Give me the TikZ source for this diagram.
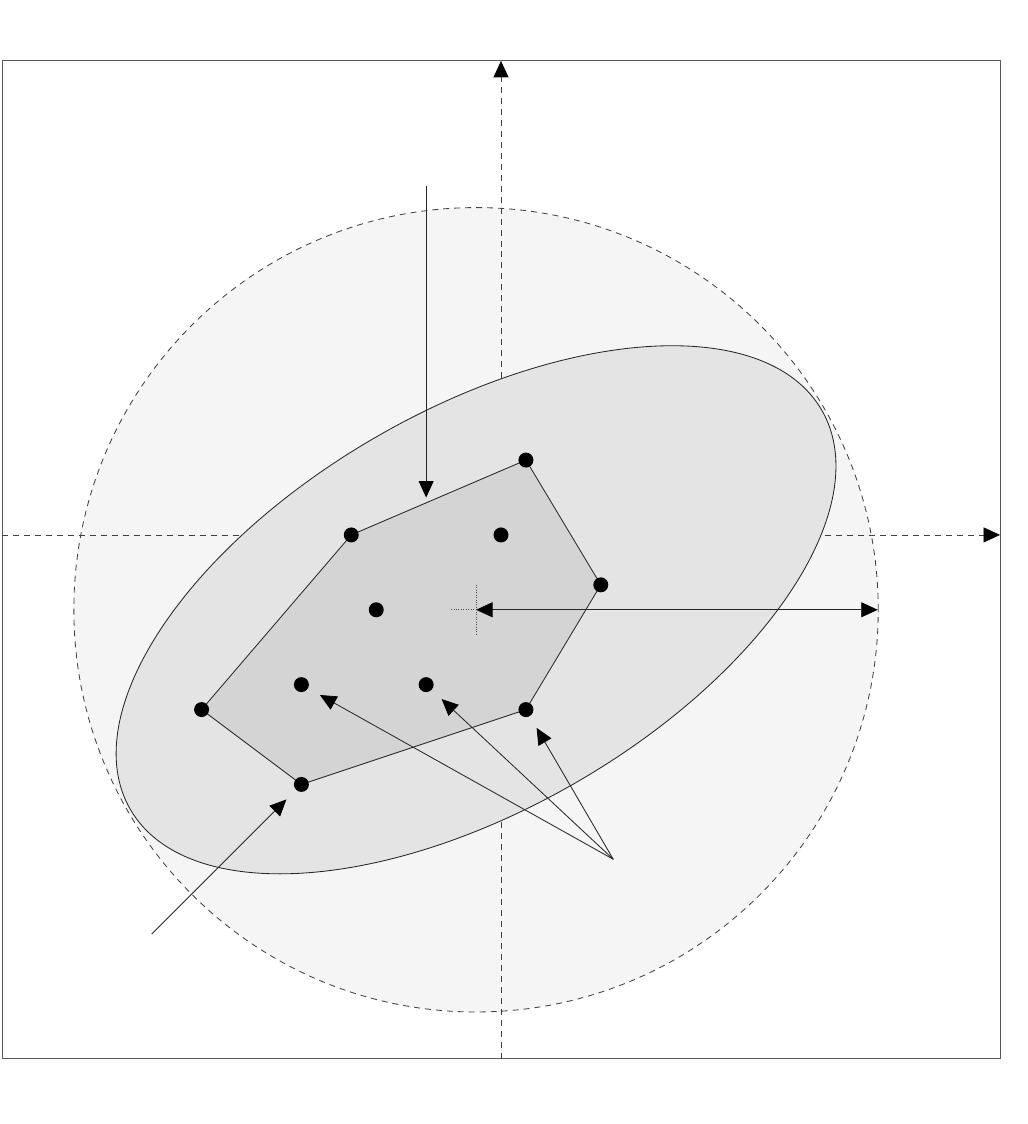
\documentclass[tikz,border=0pt]{standalone}
\usetikzlibrary{arrows.meta}
\begin{document}
\begin{tikzpicture}[x=1cm,y=1cm,
  thinline/.style={line width=0.95pt, draw=black!85},
  axisline/.style={line width=0.95pt, draw=black!75, dash pattern=on 0.24cm off 0.2cm},
  tip/.style={-{Triangle[length=0.66cm,width=0.6cm,color=black]}},
  dot/.style={circle, fill=black, inner sep=0pt, minimum size=0.6cm, outer sep=0pt},
  pointer/.style={thinline, tip, shorten >=0.55cm}]
\useasboundingbox (-20.08,-23.61) rectangle (21.12,21.44);
% frame
\draw[line width=1pt, draw=black!65] (-20,-21) rectangle (20,19);
% circle
\draw[axisline, fill=black!4] (-1,-3) circle (16.12);
% axes
\coordinate (xl) at (-20,0);
\coordinate (xr) at (20,0);
\coordinate (yb) at (0,-21);
\coordinate (yt) at (0,19);
\draw[axisline, tip] (xl) -- (xr);
\draw[axisline, tip] (yb) -- (yt);
% ellipse
\draw[thinline, fill=black!10.5, rotate around={30:(-1,-3)}] (-1,-3) ellipse (16 and 8);
% polygon
\draw[thinline, fill=black!17] (-6,0) -- (1,3) -- (4,-2) -- (1,-7) -- (-8,-10) -- (-12,-7) -- cycle;
% points
\node[dot] (p1) at (-6,0) {};
\node[dot] (p2) at (1,3) {};
\node[dot] (p3) at (4,-2) {};
\node[dot] (p4) at (1,-7) {};
\node[dot] (p5) at (-8,-10) {};
\node[dot] (p6) at (-12,-7) {};
\node[dot] (q1) at (0,0) {};
\node[dot] (q2) at (-5,-3) {};
\node[dot] (q3) at (-8,-6) {};
\node[dot] (q4) at (-3,-6) {};
% centre cross
\coordinate (c) at (-1,-3);
\coordinate (cl) at (-2,-3);
\coordinate (cr) at (0,-3);
\coordinate (ct) at (-1,-2);
\coordinate (cb) at (-1,-4);
\draw[line width=0.8pt, black!70, dotted] (cl) -- (cr);
\draw[line width=0.8pt, black!70, dotted] (ct) -- (cb);
% radius arrow
\coordinate (rr) at (15.1,-3);
\draw[thinline, {Triangle[length=0.66cm,width=0.6cm,color=black]}-{Triangle[length=0.66cm,width=0.6cm,color=black]}] (c) -- (rr);
% top arrow
\coordinate (ts) at (-3,14);
\coordinate (te) at (-3,1.5);
\draw[thinline, tip] (ts) -- (te);
% fan arrows
\coordinate (f) at (4.5,-13);
\draw[pointer] (f) -- (q3);
\draw[pointer] (f) -- (q4);
\draw[pointer] (f) -- (p4);
% lower-left arrow
\coordinate (g) at (-14,-16);
\draw[pointer] (g) -- (p5);
\end{tikzpicture}
\end{document}
